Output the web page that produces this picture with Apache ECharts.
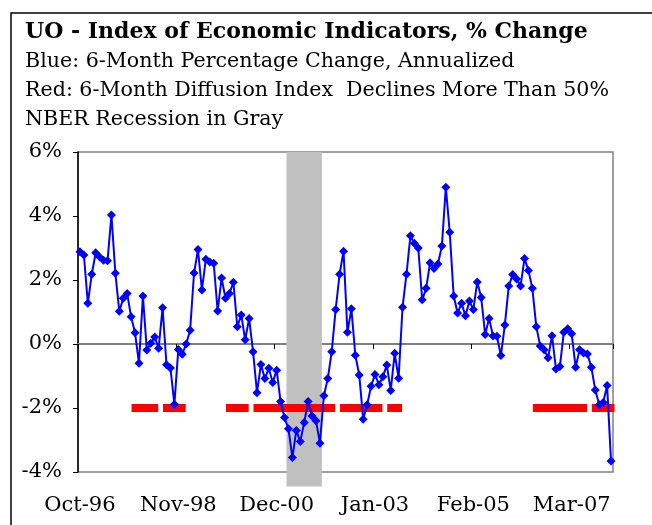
<!DOCTYPE html>
<html><head><meta charset="utf-8">
<script src="https://cdn.jsdelivr.net/npm/echarts@6/dist/echarts.min.js"></script>
<style>html,body{margin:0;padding:0;background:#fff;}#c{width:652px;height:525px;}</style>
</head><body><div id="c"></div>
<script>
// ---- data ----
const monthNames = ['Jan','Feb','Mar','Apr','May','Jun','Jul','Aug','Sep','Oct','Nov','Dec'];
const startYear = 1996, startMonthIndex = 9; // Oct-96
const monthCount = 136;                     // Oct-96 .. Jan-08
const categories = [];
for (let i = 0; i < monthCount; i++) {
  const m = startMonthIndex + i;
  const y = startYear + Math.floor(m / 12);
  categories.push(monthNames[m % 12] + '-' + String(y % 100).padStart(2, '0'));
}

// Blue: 6-month percentage change, annualized (%)
const blueValues = [
  2.88, 2.78, 1.27, 2.18, 2.85, 2.72, 2.62, 2.6, 4.03, 2.21,
  1.02, 1.43, 1.58, 0.85, 0.35, -0.6, 1.5, -0.19, 0.02, 0.22,
  -0.13, 1.13, -0.65, -0.75, -1.88, -0.17, -0.32, 0.0, 0.43, 2.22,
  2.95, 1.69, 2.65, 2.56, 2.52, 1.03, 2.06, 1.43, 1.58, 1.93,
  0.54, 0.91, 0.13, 0.8, -0.24, -1.52, -0.64, -1.08, -0.76, -1.2,
  -0.82, -1.8, -2.3, -2.65, -3.55, -2.7, -3.05, -2.45, -1.8, -2.25,
  -2.4, -3.1, -1.62, -1.08, -0.24, 1.08, 2.18, 2.9, 0.37, 1.1,
  -0.35, -0.97, -2.35, -1.9, -1.32, -0.95, -1.27, -1.02, -0.66, -1.45,
  -0.29, -1.07, 1.15, 2.18, 3.38, 3.15, 3.0, 1.38, 1.74, 2.54,
  2.36, 2.5, 3.06, 4.9, 3.49, 1.5, 0.97, 1.27, 0.88, 1.34,
  1.08, 1.94, 1.45, 0.3, 0.8, 0.25, 0.24, -0.36, 0.59, 1.81,
  2.17, 2.03, 1.81, 2.67, 2.3, 1.74, 0.54, -0.06, -0.18, -0.43,
  0.26, -0.78, -0.7, 0.37, 0.48, 0.32, -0.73, -0.18, -0.28, -0.31,
  -0.73, -1.44, -1.9, -1.83, -1.3, -3.66
];

// Red: 1 = 6-month diffusion index declines more than 50%
const redFlags = [
  0,0,0,0,0,0,0,0,0,0,
  0,0,0,0,1,1,1,1,1,1,
  0,0,1,1,1,1,1,0,0,0,
  0,0,0,0,0,0,0,0,1,1,
  1,1,1,0,0,1,1,1,1,1,
  1,1,1,1,1,1,1,1,1,1,
  1,1,1,1,1,0,0,1,1,1,
  1,1,1,1,1,1,1,0,0,1,
  1,1,0,0,0,0,0,0,0,0,
  0,0,0,0,0,0,0,0,0,0,
  0,0,0,0,0,0,0,0,0,0,
  0,0,0,0,0,0,1,1,1,1,
  1,1,1,1,1,1,1,1,1,0,
  0,1,1,1,1,1
];
const redLevel = -2;

// NBER recession (gray)
const recessionStart = 'Mar-01';
const recessionEnd = 'Nov-01';

const yMin = -4, yMax = 6, yStep = 2;

const titleText = 'UO - Index of Economic Indicators, % Change';
const subtitleLines = [
  'Blue: 6-Month Percentage Change, Annualized',
  'Red: 6-Month Diffusion Index  Declines More Than 50%',
  'NBER Recession in Gray'
];

// ---- chart ----
const FONT = '"DejaVu Serif", serif';
const chart = echarts.init(document.getElementById('c'), null, {renderer: 'canvas'});

const redData = redFlags.map(f => f ? redLevel : null);
const recData = [[categories.indexOf(recessionStart), categories.indexOf(recessionEnd), yMax]];

const graphics = [
  {type: 'rect', shape: {x: 11, y: 13, width: 700, height: 600},
   style: {fill: 'none', stroke: '#000', lineWidth: 1.5}, silent: true, z: 10},
  {type: 'text', x: 25, y: 32, style: {text: titleText, font: 'bold 22px ' + FONT, fill: '#000', verticalAlign: 'middle'}, z: 10}
];
subtitleLines.forEach((t, i) => {
  graphics.push({type: 'text', x: 25, y: 62 + i * 29,
    style: {text: t, font: '20.6px ' + FONT, fill: '#000', verticalAlign: 'middle'}, z: 10});
});

chart.setOption({
  animation: false,
  backgroundColor: '#fff',
  graphic: graphics,
  grid: {left: 78, top: 152, width: 535, height: 320, show: true,
         borderColor: '#808080', borderWidth: 1.5, backgroundColor: 'transparent'},
  xAxis: [
    {type: 'category', data: categories, boundaryGap: true, position: 'bottom',
     axisLine: {show: false, onZero: false}, axisTick: {show: false},
     axisLabel: {interval: 24, margin: 23, fontFamily: FONT, fontSize: 21, color: '#000'},
     splitLine: {show: false}},
    {type: 'category', data: categories, boundaryGap: true, position: 'bottom',
     axisLine: {show: true, onZero: true, lineStyle: {color: '#808080', width: 2}},
     axisTick: {show: true, interval: 24, length: 5, lineStyle: {color: '#000', width: 1}},
     axisLabel: {show: false}, splitLine: {show: false}}
  ],
  yAxis: {
    type: 'value', min: yMin, max: yMax, interval: yStep,
    axisLine: {show: true, lineStyle: {color: '#000', width: 1.5}},
    axisTick: {show: true, length: 5, lineStyle: {color: '#000'}},
    axisLabel: {formatter: '{value}%', margin: 16, fontFamily: FONT, fontSize: 21, color: '#000'},
    splitLine: {show: false}
  },
  series: [
    {
      type: 'custom', xAxisIndex: 0, z: 1, silent: true,
      data: recData,
      encode: {x: [0, 1], y: 2},
      renderItem: function (params, api) {
        const w = api.size([1, 0])[0];
        const pTop = api.coord([api.value(0), yMax]);
        const pEnd = api.coord([api.value(1), yMin - 0.45]);
        return {
          type: 'rect',
          shape: {x: pTop[0] - w / 2, y: pTop[1], width: pEnd[0] - pTop[0] + w, height: pEnd[1] - pTop[1]},
          style: {fill: '#C0C0C0'}
        };
      }
    },
    {
      type: 'line', xAxisIndex: 0, z: 3, data: redData,
      showAllSymbol: true, symbol: 'rect', symbolSize: [7, 8],
      lineStyle: {width: 0, opacity: 0},
      itemStyle: {color: '#FF0000'},
      connectNulls: false
    },
    {
      type: 'line', xAxisIndex: 0, z: 4, data: blueValues,
      showAllSymbol: true, symbol: 'diamond', symbolSize: 9,
      lineStyle: {color: '#0000FF', width: 2},
      itemStyle: {color: '#0000FF'}
    }
  ]
});
</script>
</body></html>
